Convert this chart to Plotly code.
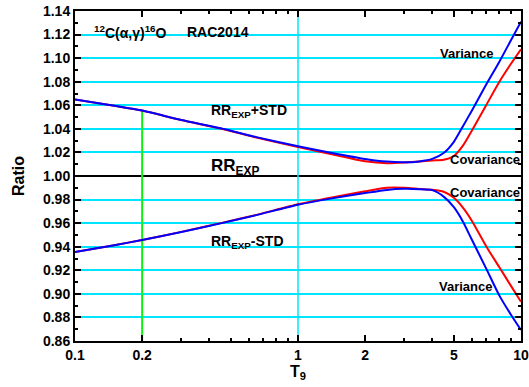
import numpy as np
import plotly.graph_objects as go

# Temperature grid (T9) and rate ratios relative to the experimental rate
t9 = [0.1, 0.15, 0.2, 0.3, 0.45, 0.65, 1.0, 1.4, 2.0, 2.5, 3.0, 3.5,
      4.0, 4.5, 5.0, 5.5, 6.0, 7.0, 8.0, 9.0, 10.0]

var_plus = [1.065, 1.0596, 1.0555, 1.0475, 1.0405, 1.033, 1.0252, 1.0198, 1.0145, 1.0122, 1.0116, 1.0124,
            1.0145, 1.0195, 1.029, 1.0425, 1.055, 1.078, 1.097, 1.115, 1.131]
cov_plus = [1.065, 1.0596, 1.0555, 1.0475, 1.0403, 1.0327, 1.0245, 1.0187, 1.0125, 1.0108, 1.0114, 1.0124,
            1.0132, 1.0138, 1.017, 1.026, 1.038, 1.0605, 1.080, 1.095, 1.1075]
var_minus = [0.9355, 0.9413, 0.9457, 0.9525, 0.9598, 0.9668, 0.9756, 0.9808, 0.9855, 0.9882, 0.9891, 0.9888,
             0.988, 0.9825, 0.9735, 0.961, 0.9465, 0.921, 0.8985, 0.8825, 0.8693]
cov_minus = [0.9355, 0.9413, 0.9457, 0.9526, 0.96, 0.967, 0.9760, 0.9816, 0.9870, 0.9900, 0.9900, 0.9890,
             0.9883, 0.9866, 0.9815, 0.973, 0.9625, 0.940, 0.9225, 0.907, 0.8933]

x_ticks = [0.1, 0.2, 1, 2, 5, 10]
x_tick_text = ["0.1", "0.2", "1", "2", "5", "10"]
x_minor = [0.3, 0.4, 0.5, 0.6, 0.7, 0.8, 0.9, 3, 4, 6, 7, 8, 9]
y_ticks = [round(0.86 + 0.02 * i, 2) for i in range(15)]
y_tick_text = [f"{v:.2f}" for v in y_ticks]

marker_t9 = 0.2
FONT = "Liberation Sans, Arial, sans-serif"

fig = go.Figure()

# reference level RR_EXP
fig.add_trace(go.Scatter(x=[0.1, 10], y=[1.0, 1.0], mode="lines",
                         line=dict(color="black", width=2), hoverinfo="skip"))
# cyan vertical at T9 = 1
fig.add_trace(go.Scatter(x=[1, 1], y=[0.86, 1.14], mode="lines",
                         line=dict(color="#00e5ff", width=1.5), hoverinfo="skip"))
# green marker at T9 = 0.2 up to the upper band
fig.add_trace(go.Scatter(x=[marker_t9, marker_t9], y=[0.86, var_plus[t9.index(marker_t9)]],
                         mode="lines", line=dict(color="#11f011", width=2), hoverinfo="skip"))

for ys, col in [(cov_plus, "red"), (cov_minus, "red"), (var_plus, "blue"), (var_minus, "blue")]:
    fig.add_trace(go.Scatter(x=t9, y=ys, mode="lines",
                             line=dict(color=col, width=2, shape="spline", smoothing=0.6)))

# text labels; x given as log10(T9), left-anchored
annots = [
    dict(text="<sup>12</sup>C(α,γ)<sup>16</sup>O", x=-0.924, y=1.1222, size=14),
    dict(text="RAC2014", x=-0.507, y=1.1222, size=14),
    dict(text="RR<sub>EXP</sub>+STD", x=-0.399, y=1.055, size=14),
    dict(text="RR<sub>EXP</sub>", x=-0.399, y=1.008, size=17),
    dict(text="RR<sub>EXP</sub>-STD", x=-0.399, y=0.9442, size=14),
    dict(text="Variance", x=0.628, y=1.104, size=13),
    dict(text="Covariance", x=0.673, y=1.0142, size=13),
    dict(text="Covariance", x=0.673, y=0.9858, size=13),
    dict(text="Variance", x=0.623, y=0.906, size=13),
]
for a in annots:
    fig.add_annotation(text=f"<b>{a['text']}</b>", x=a["x"], y=a["y"], xref="x", yref="y",
                       xanchor="left", yanchor="middle", showarrow=False,
                       font=dict(family=FONT, size=a["size"], color="black"))

fig.update_layout(
    width=529, height=387,
    margin=dict(l=75, r=8, t=11, b=46),
    paper_bgcolor="white", plot_bgcolor="white",
    showlegend=False,
    font=dict(family=FONT, color="black"),
)
fig.update_xaxes(
    type="log", range=[-1, 1], automargin=False,
    tickmode="array", tickvals=x_ticks, ticktext=[f"<b>{t}</b>" for t in x_tick_text],
    tickfont=dict(size=14, family=FONT),
    ticks="inside", ticklen=6, tickwidth=1.5, tickcolor="black",
    minor=dict(tickmode="array", tickvals=x_minor, ticks="inside", ticklen=3,
               tickcolor="black", showgrid=False),
    showgrid=False, zeroline=False,
    showline=True, linewidth=2, linecolor="black", mirror="ticks",
    title=dict(text="<b>T<sub>9</sub></b>", font=dict(size=16, family=FONT), standoff=2),
)
fig.update_yaxes(
    range=[0.86, 1.14], automargin=False,
    tickmode="array", tickvals=y_ticks, ticktext=[f"<b>{t}</b>" for t in y_tick_text],
    tickfont=dict(size=14, family=FONT),
    ticks="inside", ticklen=6, tickwidth=1.5, tickcolor="black",
    minor=dict(dtick=0.01, ticks="inside", ticklen=3, tickcolor="black", showgrid=False),
    showgrid=True, gridcolor="#00e5ff", gridwidth=1.5,
    zeroline=False,
    showline=True, linewidth=2, linecolor="black", mirror="ticks",
    title=dict(text="<b>Ratio</b>", font=dict(size=16, family=FONT), standoff=14),
)

fig.write_html("out.html")
